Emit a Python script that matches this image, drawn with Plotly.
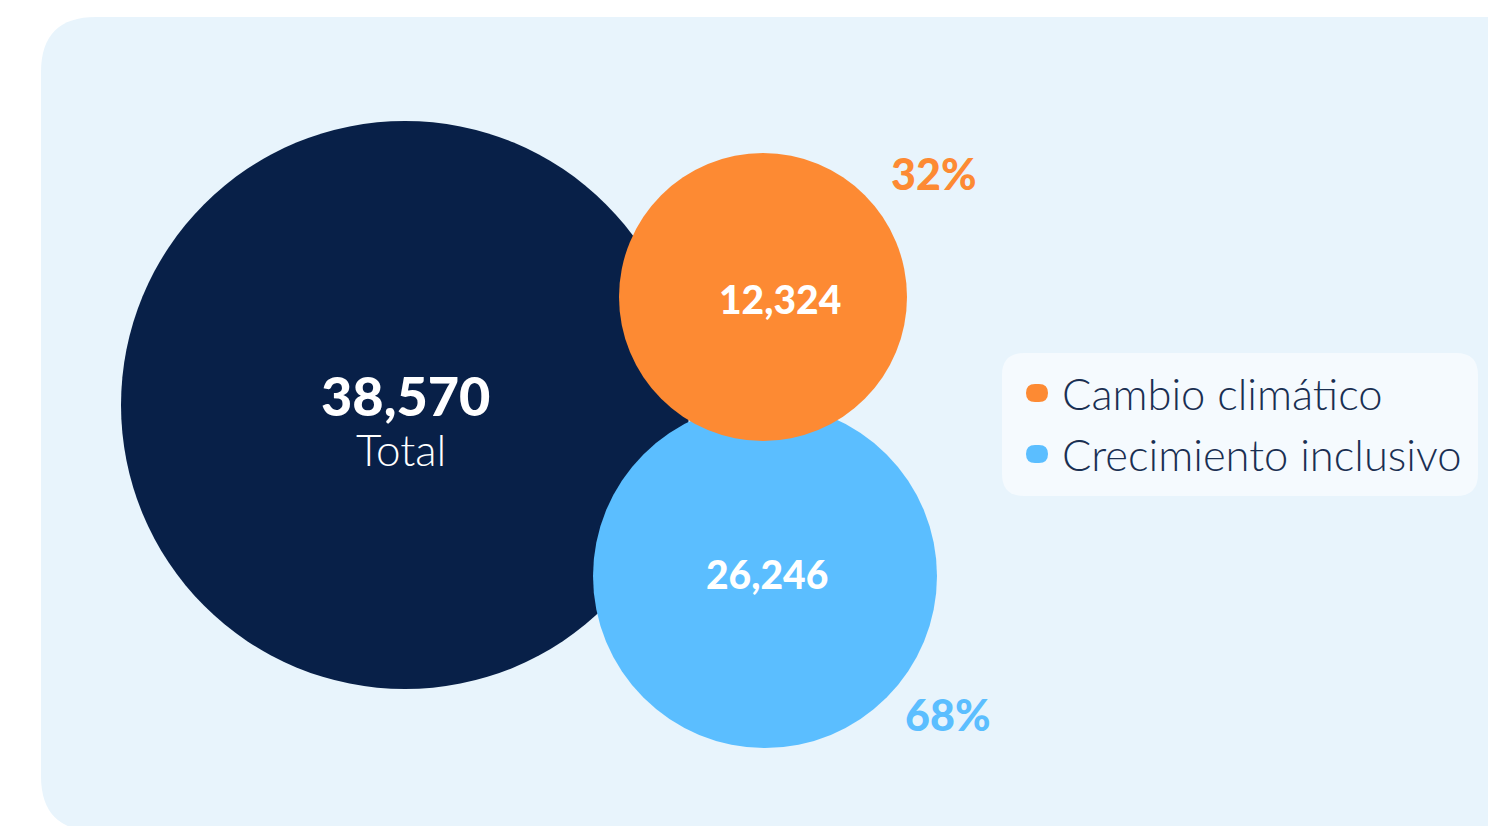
import plotly.graph_objects as go

# data
categories = ["Total", "Cambio climático", "Crecimiento inclusivo"]
values = [38570, 12324, 26246]
shares = [None, 32, 68]

# layout of the bubbles (pixel space of the page)
W, H = 1496, 826
OFF = 8  # default body margin of the html page
bubble_x = [405, 765, 763]
bubble_y = [405, 576, 297]
bubble_d = [568, 344, 288]
bubble_order = [0, 2, 1]  # navy, light blue, orange on top
colors = ["#082048", "#FD8A33", "#5BBEFF"]

BG = "#E8F4FC"

fig = go.Figure()

fig.add_trace(go.Scatter(
    x=bubble_x, y=bubble_y, mode="markers",
    marker=dict(size=bubble_d, sizemode="diameter", sizeref=1,
                color=[colors[i] for i in bubble_order], line=dict(width=0), opacity=1),
    hoverinfo="skip", showlegend=False))

def rounded_rect(x0, y0, x1, y1, r):
    return (f"M {x0+r},{y0} L {x1-r},{y0} Q {x1},{y0} {x1},{y0+r} "
            f"L {x1},{y1-r} Q {x1},{y1} {x1-r},{y1} L {x0+r},{y1} "
            f"Q {x0},{y1} {x0},{y1-r} L {x0},{y0+r} Q {x0},{y0} {x0+r},{y0} Z")

shapes = [
    dict(type="path", path=rounded_rect(41, 17, 1560, 831, 55), xref="x", yref="y",
         fillcolor=BG, line=dict(width=0), layer="below"),
    dict(type="path", path=rounded_rect(1002, 353, 1478, 496, 22), xref="x", yref="y",
         fillcolor="#F5FAFE", line=dict(width=0), layer="above"),
]

annotations = []
bold = "Lato"
# total
annotations.append(dict(x=bubble_x[0], y=bubble_y[0] - 10, text=values and f"{values[0]:,}",
                        font=dict(family=bold, size=54, color="white", weight=900)))
annotations.append(dict(x=bubble_x[0] - 4, y=449, text=categories[0],
                        font=dict(family="Lato", size=44, color="white", weight=300)))
# parts
val_pos = [None, (780, 299), (767, 574)]
pct_pos = [None, (933, 173), (947, 714)]
for i in (1, 2):
    annotations.append(dict(x=val_pos[i][0], y=val_pos[i][1], text=f"{values[i]:,}",
                            font=dict(family=bold, size=39, color="white", weight=900)))
    annotations.append(dict(x=pct_pos[i][0], y=pct_pos[i][1], text=f"{shares[i]}%",
                            font=dict(family=bold, size=43, color=colors[i], weight=900)))
# legend
leg_y = [393, 454]
for i, yy in zip((1, 2), leg_y):
    shapes.append(dict(type="path", path=rounded_rect(1026, yy - 9, 1048, yy + 9, 9),
                       xref="x", yref="y", fillcolor=colors[i], line=dict(width=0), layer="above"))
    annotations.append(dict(x=1060, y=yy, text=categories[i], xanchor="left",
                            font=dict(family="Lato", size=43.5, color="#1A2F52", weight=300)))

for a in annotations:
    a.setdefault("xanchor", "center")
    a.update(xref="x", yref="y", showarrow=False, yanchor="middle")

fig.update_layout(
    width=W, height=H, margin=dict(l=0, r=0, t=0, b=0),
    paper_bgcolor="white", plot_bgcolor="white",
    xaxis=dict(range=[OFF, W + OFF], visible=False, fixedrange=True),
    yaxis=dict(range=[H + OFF, OFF], visible=False, fixedrange=True),
    shapes=shapes, annotations=annotations,
)

fig.write_html("out.html", config={"displayModeBar": False})
